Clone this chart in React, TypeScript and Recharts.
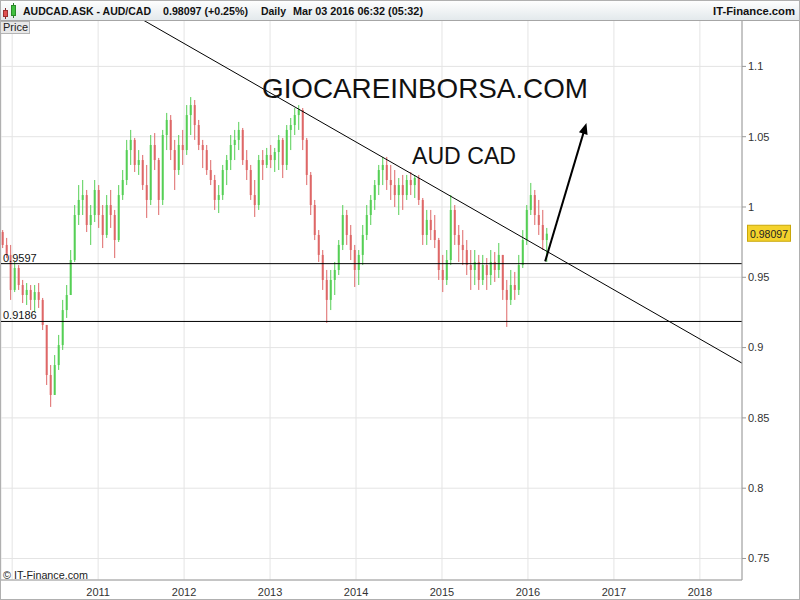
import React from 'react';
import {
  ComposedChart,
  Bar,
  XAxis,
  YAxis,
  CartesianGrid,
  ReferenceLine,
} from 'recharts';

// ---- data (daily AUD/CAD, sampled roughly every 17 days) ----
const START_DATE = 2009.8837; // decimal year of first sample
const SAMPLE_STEP = 0.04654; // 17 days in years

const OPEN = [
  0.9822, 0.973, 0.9659, 0.941, 0.9566, 0.9445, 0.9374, 0.941, 0.9339, 0.9395,
  0.9339, 0.9161, 0.8805, 0.8663, 0.8876, 0.9018, 0.9267, 0.9374, 0.9623, 0.9943,
  1.005, 1.0085, 0.9872, 0.9943, 1.0121, 0.9943, 0.9801, 1.0014, 0.9943, 0.9765,
  1.0085, 1.0192, 1.0405, 1.0477, 1.0299, 1.0334, 1.0156, 1.005, 1.0441, 1.0334,
  1.005, 1.0512, 1.0619, 1.0405, 1.0263, 1.0441, 1.0405, 1.0654, 1.0725, 1.0583,
  1.0441, 1.0405, 1.0263, 1.0192, 1.005, 1.0085, 1.0263, 1.0334, 1.0441, 1.0477,
  1.0548, 1.0334, 1.0263, 1.0085, 1.0014, 1.0334, 1.0299, 1.037, 1.0334, 1.0391,
  1.0477, 1.0299, 1.0548, 1.0583, 1.0654, 1.069, 1.0477, 1.0228, 1.0014, 0.9801,
  0.9659, 0.9481, 0.9339, 0.9481, 0.9552, 0.973, 0.9943, 0.9801, 0.9694, 0.9552,
  0.9659, 0.9801, 0.9943, 1.005, 1.0156, 1.0263, 1.0299, 1.0192, 1.0156, 1.0085,
  1.0156, 1.0085, 1.0192, 1.0156, 1.0206, 1.005, 0.9801, 0.9908, 0.9836, 0.9765,
  0.9552, 0.9481, 0.9623, 0.9979, 0.9801, 0.973, 0.9694, 0.9587, 0.9552, 0.9609,
  0.9481, 0.9587, 0.9516, 0.9609, 0.9552, 0.9659, 0.941, 0.9339, 0.9445, 0.941,
  0.9587, 0.9765, 0.9979, 1.0085, 0.9943, 0.9872, 0.9765,
];

const HIGH = [
  0.9836, 0.978, 0.973, 0.9609, 0.9587, 0.9481, 0.9459, 0.9445, 0.9445, 0.9459,
  0.9353, 0.9161, 0.8876, 0.8947, 0.909, 0.9339, 0.9445, 0.9694, 1.0014, 1.0156,
  1.0192, 1.0121, 1.0014, 1.0192, 1.0156, 1.0014, 1.0085, 1.0121, 0.9979, 1.0156,
  1.0263, 1.0477, 1.0548, 1.0491, 1.0405, 1.037, 1.0299, 1.0512, 1.0526, 1.0349,
  1.0548, 1.0669, 1.0654, 1.0477, 1.0512, 1.0548, 1.0725, 1.0782, 1.0761, 1.0619,
  1.0477, 1.0441, 1.0334, 1.0228, 1.0156, 1.0299, 1.037, 1.0512, 1.0548, 1.0605,
  1.0562, 1.0405, 1.0299, 1.0192, 1.037, 1.0405, 1.042, 1.0441, 1.042, 1.0512,
  1.0491, 1.0583, 1.0633, 1.0704, 1.0725, 1.0704, 1.0491, 1.0249, 1.005, 0.9836,
  0.9694, 0.9552, 0.9552, 0.9609, 0.9765, 1.0014, 0.9979, 0.9872, 0.973, 0.9694,
  0.9872, 1.0014, 1.0085, 1.0192, 1.0299, 1.0356, 1.0356, 1.0299, 1.0263, 1.0206,
  1.0228, 1.0228, 1.0249, 1.0228, 1.0228, 1.0064, 0.9979, 0.9979, 0.9943, 0.978,
  0.9659, 0.9694, 1.0085, 1.0014, 0.9872, 0.9836, 0.9765, 0.9694, 0.9694, 0.9659,
  0.9659, 0.9637, 0.9694, 0.968, 0.9744, 0.9659, 0.9481, 0.9552, 0.9538, 0.9659,
  0.9836, 1.0014, 1.0171, 1.0121, 1.005, 0.9979, 0.9851,
];

const LOW = [
  0.9708, 0.9637, 0.9339, 0.9395, 0.941, 0.9317, 0.9303, 0.9267, 0.9253, 0.9282,
  0.9125, 0.8734, 0.8578, 0.8663, 0.8841, 0.8983, 0.9211, 0.9374, 0.9609, 0.9872,
  0.9943, 0.9822, 0.973, 0.9893, 0.9851, 0.9708, 0.978, 0.9851, 0.9637, 0.9751,
  1.005, 1.0156, 1.0299, 1.0249, 1.0228, 1.0121, 0.9922, 1.0014, 1.0263, 0.9943,
  1.0014, 1.0405, 1.0334, 1.0121, 1.0228, 1.0299, 1.037, 1.0512, 1.0477, 1.0405,
  1.0277, 1.0228, 1.0156, 0.9979, 0.9957, 1.005, 1.0156, 1.0263, 1.0334, 1.0405,
  1.0299, 1.0192, 1.005, 0.9929, 0.9979, 1.0192, 1.0277, 1.0277, 1.0249, 1.0263,
  1.0206, 1.0263, 1.0405, 1.0512, 1.0548, 1.0405, 1.0156, 0.9943, 0.9765, 0.9609,
  0.941, 0.9175, 0.9267, 0.9374, 0.9516, 0.9694, 0.973, 0.9623, 0.9431, 0.9445,
  0.9587, 0.9765, 0.9872, 0.9979, 1.0085, 1.0156, 1.0121, 1.005, 1.0, 0.9943,
  0.9979, 1.005, 1.0085, 1.0064, 1.0014, 0.973, 0.973, 0.9765, 0.9708, 0.9481,
  0.9395, 0.9445, 0.9587, 0.973, 0.9609, 0.9587, 0.9516, 0.941, 0.9445, 0.941,
  0.9445, 0.941, 0.9445, 0.9467, 0.9495, 0.9339, 0.9147, 0.9303, 0.9339, 0.9374,
  0.9566, 0.973, 0.9943, 0.9872, 0.9801, 0.9694, 0.9609,
];

const CLOSE = [
  0.973, 0.9659, 0.941, 0.9566, 0.9445, 0.9374, 0.941, 0.9339, 0.9395, 0.9339,
  0.9161, 0.8805, 0.8663, 0.8876, 0.9018, 0.9267, 0.9374, 0.9623, 0.9943, 1.005,
  1.0085, 0.9872, 0.9943, 1.0121, 0.9943, 0.9801, 1.0014, 0.9943, 0.9765, 1.0085,
  1.0192, 1.0405, 1.0477, 1.0299, 1.0334, 1.0156, 1.005, 1.0441, 1.0334, 1.005,
  1.0512, 1.0619, 1.0405, 1.0263, 1.0441, 1.0405, 1.0654, 1.0725, 1.0583, 1.0441,
  1.0405, 1.0263, 1.0192, 1.005, 1.0085, 1.0263, 1.0334, 1.0441, 1.0477, 1.0548,
  1.0334, 1.0263, 1.0085, 1.0014, 1.0334, 1.0299, 1.037, 1.0334, 1.0391, 1.0477,
  1.0299, 1.0548, 1.0583, 1.0654, 1.069, 1.0477, 1.0228, 1.0014, 0.9801, 0.9659,
  0.9481, 0.9339, 0.9481, 0.9552, 0.973, 0.9943, 0.9801, 0.9694, 0.9552, 0.9659,
  0.9801, 0.9943, 1.005, 1.0156, 1.0263, 1.0299, 1.0192, 1.0156, 1.0085, 1.0156,
  1.0085, 1.0192, 1.0156, 1.0206, 1.005, 0.9801, 0.9908, 0.9836, 0.9765, 0.9552,
  0.9481, 0.9623, 0.9979, 0.9801, 0.973, 0.9694, 0.9587, 0.9552, 0.9609, 0.9481,
  0.9587, 0.9516, 0.9609, 0.9552, 0.9659, 0.941, 0.9339, 0.9445, 0.941, 0.9587,
  0.9765, 0.9979, 1.0085, 0.9943, 0.9872, 0.9765, 0.981,
];

const LAST_PRICE = 0.98097;
const SUPPORT_1 = 0.9597;
const SUPPORT_2 = 0.9186;
const YEAR_TICKS = [2011, 2012, 2013, 2014, 2015, 2016, 2017, 2018];
const PRICE_TICKS = [0.75, 0.8, 0.85, 0.9, 0.95, 1, 1.05, 1.1];
const X_DOMAIN = [2009.87, 2018.49];
const Y_DOMAIN = [0.7347, 1.133];
// trendline from the 2011/2013 highs, and the forecast arrow
const TREND_LINE = [
  { x: 2011.523, y: 1.133 },
  { x: 2018.488, y: 0.889 },
];
const ARROW = [
  { x: 2016.2, y: 0.9613 },
  { x: 2016.68, y: 1.0597 },
];

const FONT = '"Liberation Sans", Arial, sans-serif';
const GREEN = '#55cf55';
const RED = '#de6767';

const data = OPEN.map((o, i) => {
  const h = Math.max(HIGH[i], o, CLOSE[i]);
  const l = Math.min(LOW[i], o, CLOSE[i]);
  return {
    t: START_DATE + i * SAMPLE_STEP,
    range: [l, h],
    open: o,
    close: CLOSE[i],
    high: h,
    low: l,
  };
});

const Candle = (props: any) => {
  const { x, y, width, height, payload } = props;
  if (!payload || x == null || y == null) return null;
  const top = Math.min(y, y + height);
  const h = Math.abs(height);
  const span = payload.high - payload.low || 1e-9;
  const py = (v: number) => top + ((payload.high - v) / span) * h;
  const cx = x + width / 2;
  const up = payload.close >= payload.open;
  const color = up ? GREEN : RED;
  const bt = py(Math.max(payload.open, payload.close));
  const bb = py(Math.min(payload.open, payload.close));
  return (
    <g>
      <line x1={cx} x2={cx} y1={top} y2={top + h} stroke={color} strokeWidth={1} />
      <rect x={cx - 1} y={bt} width={2} height={Math.max(1, bb - bt)} fill={color} />
    </g>
  );
};

const ArrowShape = (p: any) => {
  const { x1, y1, x2, y2 } = p;
  if ([x1, y1, x2, y2].some((v) => v == null || isNaN(v))) return null;
  const dx = x2 - x1;
  const dy = y2 - y1;
  const len = Math.sqrt(dx * dx + dy * dy) || 1;
  const ux = dx / len;
  const uy = dy / len;
  const hl = 11;
  const hw = 4.5;
  const bx = x2 - ux * hl;
  const by = y2 - uy * hl;
  const pts = `${x2},${y2} ${bx - uy * hw},${by + ux * hw} ${bx + uy * hw},${by - ux * hw}`;
  return (
    <g>
      <line x1={x1} y1={y1} x2={bx + ux * 1} y2={by + uy * 1} stroke="#000" strokeWidth={2} />
      <polygon points={pts} fill="#000" />
    </g>
  );
};

const LevelLabel = (text: string) => (p: any) => {
  const vb = p.viewBox || {};
  return (
    <text x={(vb.x || 0) + 2} y={(vb.y || 0) - 2} fontSize={11} fontFamily={FONT} fill="#111">
      {text}
    </text>
  );
};

const PriceTag = (p: any) => {
  const vb = p.viewBox || {};
  const x = (vb.x || 0) + (vb.width || 0) + 5;
  const y = vb.y || 0;
  return (
    <g>
      <rect x={x + 0.5} y={y - 8.5} width={43} height={16} fill="#f4d22c" stroke="#c9a70a" />
      <text x={x + 3} y={y + 4} fontSize={11} fontFamily={FONT} fill="#222" textLength={38} lengthAdjust="spacingAndGlyphs">
        {LAST_PRICE.toFixed(5)}
      </text>
    </g>
  );
};

export default function App() {
  return (
    <div style={{ position: 'absolute', left: 0, top: 0, width: 800, height: 600, background: '#fff' }}>
      <ComposedChart
        width={800}
        height={600}
        data={data}
        margin={{ top: 20, right: 0, bottom: 0, left: 1 }}
        style={{ fontFamily: FONT }}
      >
        <CartesianGrid stroke="#e4e4e4" strokeWidth={1} />
        <XAxis
          dataKey="t"
          type="number"
          domain={X_DOMAIN}
          allowDataOverflow
          ticks={YEAR_TICKS}
          tickFormatter={(v: number) => String(v)}
          height={20}
          tickLine={false}
          tickSize={6}
          axisLine={{ stroke: '#9a9a9a' }}
          tick={{ fontSize: 11, fill: '#333', fontFamily: FONT }}
          interval={0}
        />
        <YAxis
          orientation="right"
          width={58}
          domain={Y_DOMAIN}
          allowDataOverflow
          ticks={PRICE_TICKS}
          tickFormatter={(v: number) => String(v)}
          tickSize={4}
          tickLine={{ stroke: '#9a9a9a' }}
          axisLine={{ stroke: '#9a9a9a' }}
          tick={{ fontSize: 11, fill: '#333', fontFamily: FONT }}
          interval={0}
        />
        <ReferenceLine x={2010} stroke="#e4e4e4" />
        <Bar dataKey="range" barSize={3} shape={Candle} isAnimationActive={false} />
        <ReferenceLine y={SUPPORT_1} stroke="#000" strokeWidth={1} label={LevelLabel('0.9597')} />
        <ReferenceLine y={SUPPORT_2} stroke="#000" strokeWidth={1} label={LevelLabel('0.9186')} />
        <ReferenceLine segment={TREND_LINE} stroke="#000" strokeWidth={1} ifOverflow="visible" />
        <ReferenceLine segment={ARROW} ifOverflow="visible" shape={ArrowShape} />
        <ReferenceLine y={LAST_PRICE} stroke="none" strokeOpacity={0} ifOverflow="visible" label={PriceTag} />
      </ComposedChart>
      <svg
        width={800}
        height={600}
        style={{ position: 'absolute', left: 0, top: 0, pointerEvents: 'none' }}
        fontFamily={FONT}
      >
        <defs>
          <linearGradient id="hdr" x1="0" y1="0" x2="0" y2="1">
            <stop offset="0" stopColor="#ffffff" />
            <stop offset="1" stopColor="#e3e9ec" />
          </linearGradient>
        </defs>
        <rect x={0} y={0} width={800} height={20} fill="url(#hdr)" />
        <line x1={0} y1={20.5} x2={800} y2={20.5} stroke="#a6a6a6" />
        {/* icon */}
        <line x1={5.5} y1={8} x2={5.5} y2={19} stroke="#8a2a2a" />
        <rect x={3.5} y={10.5} width={4} height={6} fill="#e05050" stroke="#9a3030" />
        <line x1={13.5} y1={3} x2={13.5} y2={18} stroke="#2a7a2a" />
        <rect x={11.5} y={5.5} width={4} height={10} fill="#40c040" stroke="#2a8a2a" />
        <text x={23} y={15} fontSize={11} fontWeight="bold" fill="#111" textLength={128} lengthAdjust="spacingAndGlyphs">AUDCAD.ASK - AUD/CAD</text>
        <text x={163} y={15} fontSize={11} fontWeight="bold" fill="#111" textLength={85} lengthAdjust="spacingAndGlyphs">0.98097 (+0.25%)</text>
        <text x={261} y={15} fontSize={11} fontWeight="bold" fill="#111" textLength={25} lengthAdjust="spacingAndGlyphs">Daily</text>
        <text x={293} y={15} fontSize={11} fontWeight="bold" fill="#111" textLength={130} lengthAdjust="spacingAndGlyphs">Mar 03 2016 06:32 (05:32)</text>
        <text x={713} y={15} fontSize={11} fontWeight="bold" fill="#111" textLength={82} lengthAdjust="spacingAndGlyphs">IT-Finance.com</text>
        {/* Price box */}
        <rect x={0.5} y={21.5} width={29} height={12} fill="#e8e8e8" stroke="#b4b4b4" />
        <text x={3} y={31} fontSize={11} fill="#222" textLength={25} lengthAdjust="spacingAndGlyphs">Price</text>
        {/* annotations */}
        <text x={262} y={98} fontSize={28} fill="#111" textLength={326} lengthAdjust="spacingAndGlyphs">GIOCAREINBORSA.COM</text>
        <text x={412} y={164} fontSize={23} fill="#111" textLength={104} lengthAdjust="spacingAndGlyphs">AUD CAD</text>
        <text x={3} y={579} fontSize={11} fill="#222" textLength={85} lengthAdjust="spacingAndGlyphs">© IT-Finance.com</text>
        {/* frame */}
        <line x1={0.5} y1={20} x2={0.5} y2={600} stroke="#a6a6a6" />
        <rect x={0.5} y={0.5} width={799} height={599} fill="none" stroke="#b0b0b0" />
      </svg>
    </div>
  );
}
